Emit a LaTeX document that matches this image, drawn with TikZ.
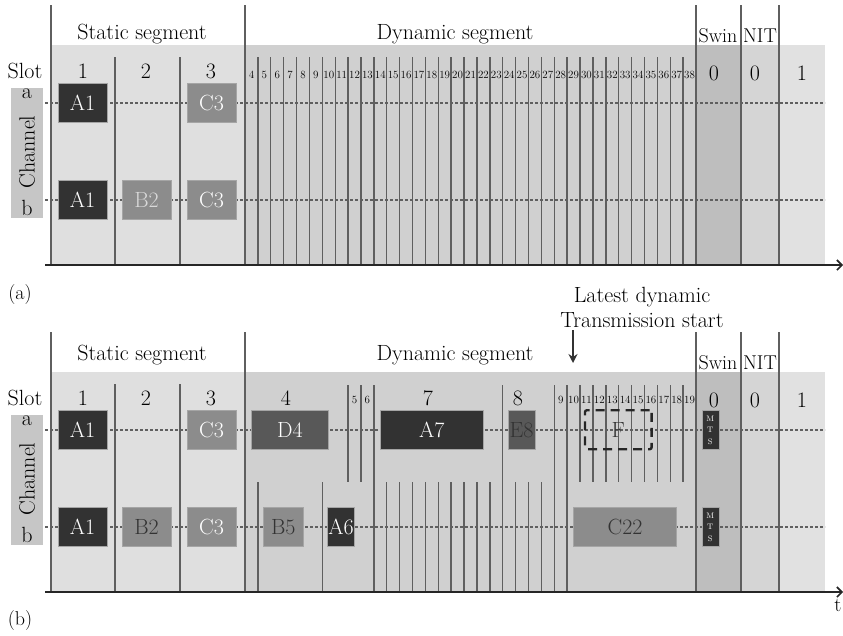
\documentclass[tikz,border=0pt]{standalone}
\usepackage{tikz}
\usetikzlibrary{arrows.meta, positioning, calc}

\definecolor{statbg}{RGB}{223,223,223}
\definecolor{dynbg}{RGB}{208,208,208}
\definecolor{swinbg}{RGB}{190,190,190}
\definecolor{nitbg}{RGB}{213,213,213}
\definecolor{lastbg}{RGB}{225,225,225}
\definecolor{chanbg}{RGB}{198,198,198}
\definecolor{rulegray}{RGB}{95,95,95}
\definecolor{msgdark}{RGB}{50,50,50}
\definecolor{msgdim}{RGB}{88,88,88}
\definecolor{msgmid}{RGB}{140,140,140}
\definecolor{msgedge}{RGB}{165,165,165}

% minislot width
\newcommand{\mw}{12.886}

% common frame of one communication cycle (#1 = y of segment labels)
\newcommand{\cycleframe}[1]{%
  \fill[statbg] (51,45) rectangle (245,265);
  \fill[dynbg] (245,45) rectangle (696,265);
  \fill[swinbg] (696,45) rectangle (741,265);
  \fill[nitbg] (741,45) rectangle (779,265);
  \fill[lastbg] (779,45) rectangle (825,265);
  % channel label
  \node[fill=chanbg, minimum width=32pt, minimum height=130pt] (chan) at (27,153) {};
  \node[rotate=90] (channame) at (27,152) {Channel};
  \node (cha) at (27,94) {a};
  \node (chb) at (27,208) {b};
  % segment borders
  \foreach \x in {51,245,696,741,779} \draw[slotline] (\x,5) -- (\x,265);
  \foreach \x in {115,180} \draw[slotline] (\x,57) -- (\x,265);
  % segment and slot labels
  \node (statseg) at (142,#1) {Static segment};
  \node (dynseg) at (455,#1) {Dynamic segment};
  \node[font=\fontsize{20}{22}\selectfont] (swin) at (718,36) {Swin};
  \node[font=\fontsize{20}{22}\selectfont] (nit) at (760,36) {NIT};
  \node (slot) at (25,71) {Slot};
  \node (s1) at (83,71) {1};
  \node (s2) at (146,71) {2};
  \node (s3) at (211,71) {3};
  \node (swin0) at (714,73) {0};
  \node (nit0) at (755,73) {0};
  \node (next1) at (802,73) {1};
}

\begin{document}
\begin{tikzpicture}[
  x=1pt, y=-1pt,
  every node/.style={font=\fontsize{22}{25}\selectfont, inner sep=0pt},
  % Styles
  slotline/.style={draw=rulegray, line width=1.4pt},
  chanline/.style={draw=rulegray, line width=1.6pt, dash pattern=on 3pt off 2pt},
  timeaxis/.style={draw=black!85, line width=2pt, -{Straight Barb[length=5pt, width=10pt, line width=1.6pt]}},
  msg/.style={rectangle, draw=msgedge, line width=0.8pt, minimum height=39pt},
  darkmsg/.style={msg, fill=msgdark, text=white},
  dimmsg/.style={msg, fill=msgdim, text=white},
  midmsg/.style={msg, fill=msgmid, text=white},
  mts/.style={rectangle, draw=msgedge, line width=0.6pt, fill=msgdark, text=white, minimum width=17pt, minimum height=39pt, align=center, font=\fontsize{8}{11.5}\selectfont},
  pending/.style={rectangle, draw=black!85, line width=2.4pt, dash pattern=on 9pt off 6pt, rounded corners=2pt, minimum height=39pt, text=black!80},
  minislot/.style={font=\fontsize{11}{12}\selectfont},
  panel/.style={font=\fontsize{20}{22}\selectfont},
  arr/.style={-{Stealth[length=9pt, width=9pt]}, line width=2.5pt, draw=black!80},
]

  \useasboundingbox (0,0) rectangle (843,635);

  % ── (a) ALL MINISLOTS EMPTY ───────────────────────────────
  \begin{scope}[name prefix=a-]
    \cycleframe{34}
    % minislots 4 ... 38
    \foreach \m in {1,...,34} \draw[slotline] ({245+\m*\mw},57) -- ({245+\m*\mw},265);
    \foreach \m [count=\i from 0] in {4,...,38}
      \node[minislot] (ms\m) at ({245+(\i+0.5)*\mw},75) {\m};

    % channels and time axis
    \coordinate (aleft) at (45,103);   \coordinate (aright) at (825,103);
    \coordinate (bleft) at (45,200);   \coordinate (bright) at (825,200);
    \coordinate (t0) at (45,265);      \coordinate (tend) at (843,265);
    \draw[chanline] (aleft) -- (aright);
    \draw[chanline] (bleft) -- (bright);
    \draw[timeaxis] (t0) -- (tend);

    % frames
    \node[darkmsg, minimum width=49pt] (A1a) at (82.5,102.5) {A1};
    \node[midmsg, minimum width=49pt] (C3a) at (211.5,102.5) {C3};
    \node[darkmsg, minimum width=49pt] (A1b) at (82.5,199.5) {A1};
    \node[midmsg, minimum width=49pt, text=white!85!black] (B2b) at (146.5,199.5) {B2};
    \node[midmsg, minimum width=49pt] (C3b) at (211.5,199.5) {C3};

    \node[panel] (tag) at (20,295) {(a)};
  \end{scope}

  % ── (b) MINISLOTS USED BY FRAMES ──────────────────────────
  \begin{scope}[yshift=-327pt, name prefix=b-]
    \cycleframe{28}
    % minislot borders on channel a only, channel b only, and both
    \foreach \m in {8,9,26,27,...,34} \draw[slotline] ({245+\m*\mw},58) -- ({245+\m*\mw},155);
    \foreach \m in {1,6,11,12,...,19,21,22,23} \draw[slotline] ({245+\m*\mw},155) -- ({245+\m*\mw},265);
    \foreach \m in {10,20,24,25} \draw[slotline] ({245+\m*\mw},58) -- ({245+\m*\mw},265);

    % slot numbers
    \node (n4) at (286,71) {4};
    \node[minislot] (n5) at (354.5,73) {5};
    \node[minislot] (n6) at (367.4,73) {6};
    \node (n7) at (428,71) {7};
    \node (n8) at (518,71) {8};
    \foreach \n in {9,...,19}
      \node[minislot] (n\n) at ({245+(\n+15.5)*\mw},73) {\n};

    % latest dynamic transmission start
    \node[align=center] (latest) at (642,-20) {Latest dynamic\\Transmission start};
    \coordinate (latesttop) at (573,3);
    \coordinate (latestslot) at (573,36);
    \draw[arr] (latesttop) -- (latestslot);

    % channels and time axis
    \coordinate (aleft) at (45,103);   \coordinate (aright) at (825,103);
    \coordinate (bleft) at (45,200);   \coordinate (bright) at (825,200);
    \coordinate (t0) at (45,265);      \coordinate (tend) at (843,265);
    \draw[chanline] (aleft) -- (aright);
    \draw[chanline] (bleft) -- (bright);
    \draw[timeaxis] (t0) -- (tend);

    % frames on channel a
    \node[darkmsg, minimum width=49pt] (A1a) at (82.5,102.5) {A1};
    \node[midmsg, minimum width=49pt] (C3a) at (211.5,102.5) {C3};
    \node[dimmsg, minimum width=76.6pt] (D4) at (290,103) {D4};
    \node[darkmsg, minimum width=103.3pt] (A7) at (431.7,103) {A7};
    \node[dimmsg, minimum width=27pt, text=black!80] (E8) at (521.5,103) {E8};
    \node[pending, minimum width=66.7pt] (F) at (618.3,102.7) {F};
    \node[mts] (MTSa) at (710.3,103) {M\\T\\S};

    % frames on channel b
    \node[darkmsg, minimum width=49pt] (A1b) at (82.5,199.5) {A1};
    \node[midmsg, minimum width=49pt, text=black!80] (B2b) at (146.5,199.5) {B2};
    \node[midmsg, minimum width=49pt] (C3b) at (211.5,199.5) {C3};
    \node[midmsg, minimum width=40pt, text=black!80] (B5) at (283.3,200) {B5};
    \node[darkmsg, minimum width=26.6pt] (A6) at (341,200) {A6};
    \node[midmsg, minimum width=103.4pt, text=black!80] (C22) at (625,200) {C22};
    \node[mts] (MTSb) at (710.3,200) {M\\T\\S};

    \node[panel] (taxis) at (838,278) {t};
    \node[panel] (tag) at (20,293) {(b)};
  \end{scope}

\end{tikzpicture}
\end{document}
